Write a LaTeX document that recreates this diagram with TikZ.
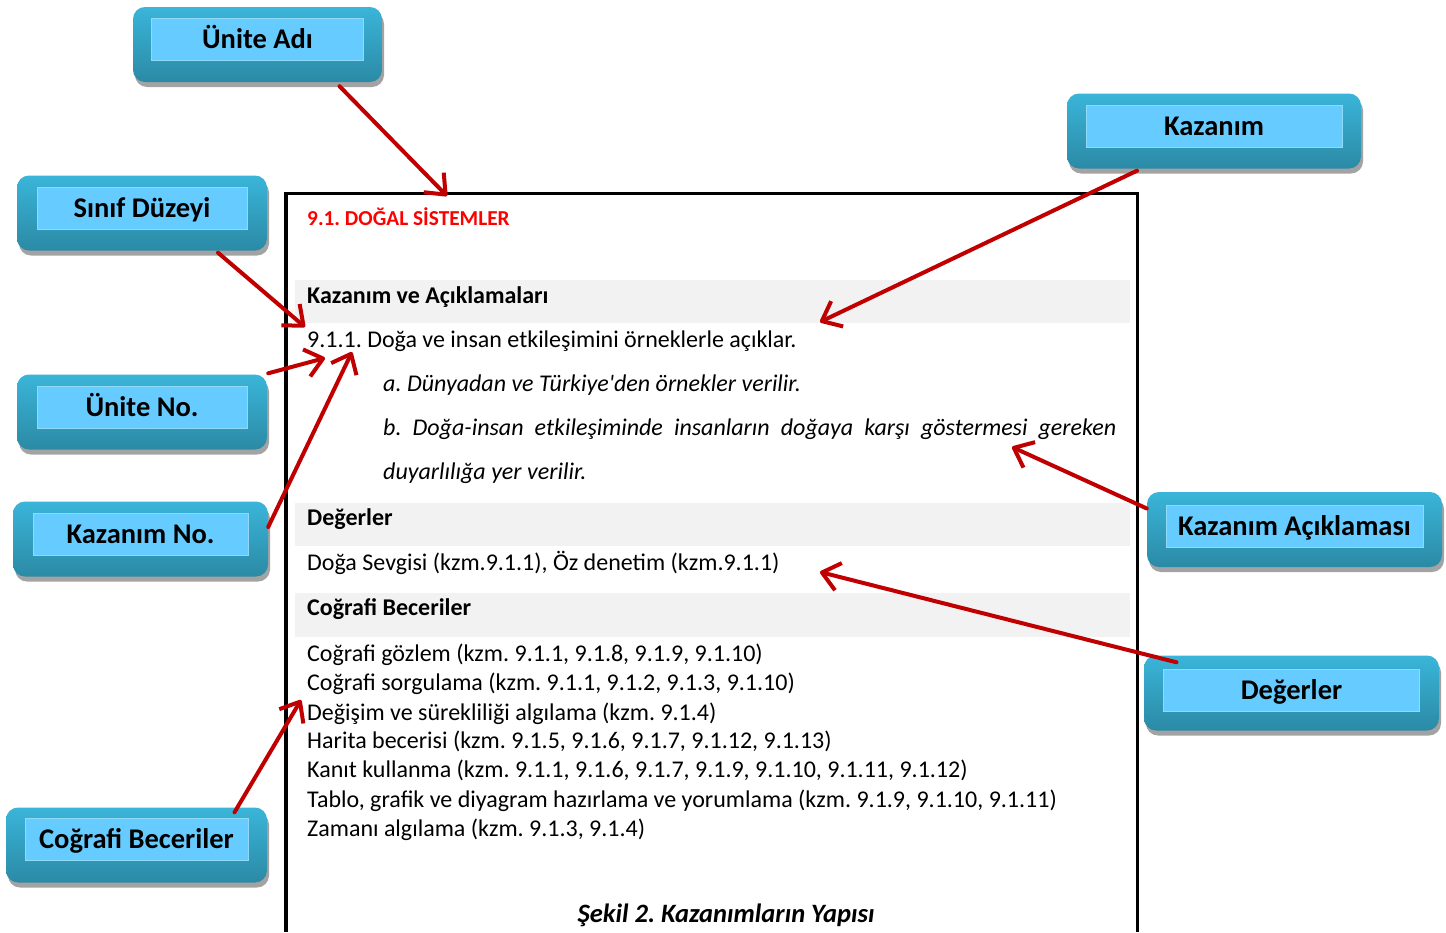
\documentclass[tikz,border=0pt]{standalone}
\usepackage{fontspec}
\setmainfont{Carlito}
\usetikzlibrary{arrows.meta,shadows,calc}
\definecolor{arrowred}{HTML}{C00000}
\definecolor{boxtop}{HTML}{3AB5D9}
\definecolor{boxbot}{HTML}{2B8AA5}
\definecolor{innerfill}{HTML}{66CCFF}
\definecolor{innerline}{HTML}{8FDAF6}
\definecolor{band}{HTML}{F2F2F2}
\definecolor{titlered}{HTML}{FF0000}
\frenchspacing
\begin{document}
\begin{tikzpicture}[x=1pt,y=-1pt,
  outerbox/.style={rounded corners=12pt, top color=boxtop, bottom color=boxbot, draw=none,
    minimum height=75pt, inner sep=0pt,
    drop shadow={shadow xshift=2pt, shadow yshift=-5pt, fill=black!40, opacity=0.9}},
  innerbox/.style={fill=innerfill, draw=innerline, line width=0.8pt, minimum height=42pt,
    inner sep=0pt, font=\fontsize{28.5}{30}\selectfont\bfseries, text height=18pt, text depth=0pt},
  body/.style={anchor=base west, inner sep=0pt, font=\fontsize{24}{29}\selectfont},
  bodyb/.style={body, font=\fontsize{24}{29}\selectfont\bfseries},
  bodyi/.style={body, font=\fontsize{24}{29}\selectfont\itshape},
  redarrow/.style={draw=arrowred, line width=4pt, line cap=round,
    -{Straight Barb[length=17pt,width=28pt,line join=round]}}
]
\useasboundingbox (0,0) rectangle (1446,932);
\fill[white] (0,0) rectangle (1446,932);

% bands
\fill[band] (295,280) rectangle (1130,322.5);
\fill[band] (295,502.7) rectangle (1130,545.7);
\fill[band] (295,592.7) rectangle (1130,636.7);

% frame
\draw[line width=3.6pt, line join=miter] (286,932) -- (286,193.5) -- (1137.5,193.5) -- (1137.5,932);

% document text
\node[body, font=\fontsize{21.3}{25}\selectfont\bfseries, text=titlered] (title) at (307,225.7) {9.1. DOĞAL SİSTEMLER};
\node[bodyb] (h1) at (307,303.3) {Kazanım ve Açıklamaları};
\node[body] (k911) at (307,347.7) {9.1.1. Doğa ve insan etkileşimini örneklerle açıklar.};
\node[bodyi] (ia) at (383,391.7) {a. Dünyadan ve Türkiye\textquotesingle den örnekler verilir.};
\node[bodyi] (ib) at (383,435.7) {\makebox[733pt][s]{b. Doğa-insan etkileşiminde insanların doğaya karşı göstermesi gereken}};
\node[bodyi] (ib2) at (383,479.7) {duyarlılığa yer verilir.};
\node[bodyb] (h2) at (307,525.3) {Değerler};
\node[body] (deg) at (307,570) {Doğa Sevgisi (kzm.9.1.1), Öz denetim (kzm.9.1.1)};
\node[bodyb] (h3) at (307,615.7) {Coğrafi Beceriler};
\node[body] (l1) at (307,661.7) {Coğrafi gözlem (kzm. 9.1.1, 9.1.8, 9.1.9, 9.1.10)};
\node[body] (l2) at (307,690.7) {Coğrafi sorgulama (kzm. 9.1.1, 9.1.2, 9.1.3, 9.1.10)};
\node[body] (l3) at (307,720) {Değişim ve sürekliliği algılama (kzm. 9.1.4)};
\node[body] (l4) at (307,748.7) {Harita becerisi (kzm. 9.1.5, 9.1.6, 9.1.7, 9.1.12, 9.1.13)};
\node[body] (l5) at (307,777.8) {Kanıt kullanma (kzm. 9.1.1, 9.1.6, 9.1.7, 9.1.9, 9.1.10, 9.1.11, 9.1.12)};
\node[body] (l6) at (307,807) {Tablo, grafik ve diyagram hazırlama ve yorumlama (kzm. 9.1.9, 9.1.10, 9.1.11)};
\node[body] (l7) at (307,836.7) {Zamanı algılama (kzm. 9.1.3, 9.1.4)};
\node[anchor=base, inner sep=0pt, font=\fontsize{26.5}{30}\selectfont\bfseries\itshape] (cap) at (726,922.7) {Şekil 2. Kazanımların Yapısı};

% label boxes
\node[outerbox, minimum width=249pt] (uniteadi) at (257.5,44.5) {};
\node[innerbox, minimum width=212pt] (uniteadi-in) at (257.5,39) {Ünite Adı};

\node[outerbox, minimum width=250pt] (sinif) at (142,213) {};
\node[innerbox, minimum width=210pt] (sinif-in) at (142,208) {Sınıf Düzeyi};

\node[outerbox, minimum width=250pt] (uniteno) at (142,412) {};
\node[innerbox, minimum width=210pt] (uniteno-in) at (142,407) {Ünite No.};

\node[outerbox, minimum width=255pt] (kazno) at (140.5,539) {};
\node[innerbox, minimum width=215pt] (kazno-in) at (140.5,534) {Kazanım No.};

\node[outerbox, minimum width=261pt] (cograf) at (136.5,845) {};
\node[innerbox, minimum width=223pt] (cograf-in) at (136.5,839) {Coğrafi Beceriler};

\node[outerbox, minimum width=294pt] (kazanim) at (1214,131) {};
\node[innerbox, minimum width=256pt] (kazanim-in) at (1214,126) {Kazanım};

\node[outerbox, minimum width=295pt] (kazac) at (1294.5,529.5) {};
\node[innerbox, minimum width=257pt] (kazac-in) at (1294.5,526) {Kazanım Açıklaması};

\node[outerbox, minimum width=295pt] (degbox) at (1291.5,693) {};
\node[innerbox, minimum width=256pt] (degbox-in) at (1291.5,690) {Değerler};

% arrow targets
\coordinate (t1) at (447,196);
\coordinate (t2) at (305,327);
\coordinate (t3) at (325,358);
\coordinate (t4) at (352,352);
\coordinate (t5) at (301,700);
\coordinate (t6) at (820,322);
\coordinate (t7) at (1012,447);
\coordinate (t8) at (820,572);

% arrows
\draw[redarrow] ([xshift=82pt,yshift=-4pt]uniteadi.south) -- (t1);
\draw[redarrow] ([xshift=76pt,yshift=-2pt]sinif.south) -- (t2);
\draw[redarrow] ([xshift=1pt,yshift=1pt]uniteno.north east) -- (t3);
\draw[redarrow] ([yshift=12pt]kazno.east) -- (t4);
\draw[redarrow] ([xshift=98pt,yshift=-5pt]cograf.north) -- (t5);
\draw[redarrow] ([xshift=-77pt,yshift=-2pt]kazanim.south) -- (t6);
\draw[redarrow] ([yshift=21pt]kazac.west) -- (t7);
\draw[redarrow] ([xshift=-115pt,yshift=-7pt]degbox.north) -- (t8);
\end{tikzpicture}
\end{document}
